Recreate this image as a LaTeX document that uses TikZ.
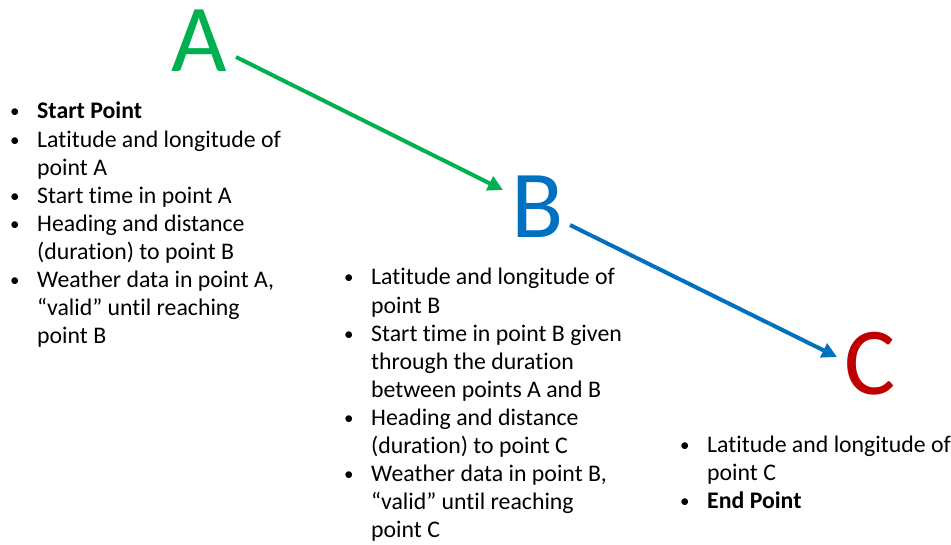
\documentclass[tikz,border=0pt]{standalone}
\usepackage{fontspec}
\setmainfont{Carlito}[Ligatures=NoCommon]
\usetikzlibrary{arrows.meta}
\definecolor{pgreen}{RGB}{0,176,80}
\definecolor{pblue}{RGB}{0,112,192}
\definecolor{pred}{RGB}{192,0,0}
\newcommand{\bul}{\makebox[28pt][l]{\hspace{1pt}\raisebox{1pt}{\fontsize{19}{20}\selectfont\textbullet}}}
\tikzset{
  x=1pt,y=1pt,
  letter/.style={anchor=base,inner sep=0pt,font=\fontsize{96}{110}\selectfont},
  listbox/.style={anchor=base west,inner sep=0pt,font=\fontsize{23.8}{28.1}\selectfont},
  conn/.style={line width=4pt,-{Triangle[length=15pt,width=15pt]}}
}
\begin{document}
\begin{tikzpicture}
\useasboundingbox (0,0) rectangle (951,-545);
\node[letter,text=pgreen] (A) at (199,-72) {A};
\node[letter,text=pblue] (B) at (538,-238) {B};
\node[letter,text=pred] (C) at (870,-395) {C};
\coordinate (Aout) at (236,-57);
\coordinate (Bin) at (503,-190);
\coordinate (Bout) at (570,-225);
\coordinate (Cin) at (837,-357);
\draw[conn,pgreen] (Aout) -- (Bin);
\draw[conn,pblue] (Bout) -- (Cin);
\node[listbox] (LA) at (9,-119) {\begin{tabular}[t]{@{}l@{}l@{}}
\bul & \textbf{Start Point}\\
\bul & Latitude and longitude of\\
 & point A\\
\bul & Start time in point A\\
\bul & Heading and distance\\
 & (duration) to point B\\
\bul & Weather data in point A,\\
 & “valid” until reaching\\
 & point B
\end{tabular}};
\node[listbox] (LB) at (343,-285) {\begin{tabular}[t]{@{}l@{}l@{}}
\bul & Latitude and longitude of\\
 & point B\\
\bul & Start time in point B given\\
 & through the duration\\
 & between points A and B\\
\bul & Heading and distance\\
 & (duration) to point C\\
\bul & Weather data in point B,\\
 & “valid” until reaching\\
 & point C
\end{tabular}};
\node[listbox] (LC) at (679,-452) {\begin{tabular}[t]{@{}l@{}l@{}}
\bul & Latitude and longitude of\\
 & point C\\
\bul & \textbf{End Point}
\end{tabular}};
\end{tikzpicture}
\end{document}
